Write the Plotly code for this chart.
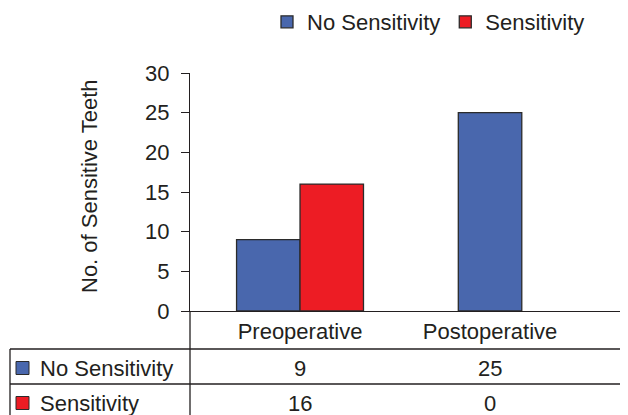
import plotly.graph_objects as go

categories = ["Preoperative", "Postoperative"]
series_names = ["No Sensitivity", "Sensitivity"]
no_sensitivity = [9, 25]
sensitivity = [16, 0]
y_ticks = [0, 5, 10, 15, 20, 25, 30]
y_title = "No. of Sensitive Teeth"

BLUE = "#4967AD"
RED = "#ED1C24"
INK = "#231F20"
EDGE = "#2B2B2B"
FONT = "Liberation Sans, Arial, Helvetica, sans-serif"
FS = 22

# page body has an 8px margin; lay out in reference pixels, shifted by OFF
OFF = 8
W, H = 628 - OFF, 415 - OFF
PLOT_LEFT, PLOT_TOP, PLOT_BOTTOM, PLOT_RIGHT = 190, 73, 311, 628
L = PLOT_LEFT - OFF
T = PLOT_TOP - OFF
B = H - (PLOT_BOTTOM - OFF)
R = W - (PLOT_RIGHT - OFF)
PW, PH = W - L - R, H - T - B


def px_x(p):
    return (p - PLOT_LEFT) / PW


def px_y(p):
    return (PLOT_BOTTOM - p) / PH


def edge_widths(vals):
    return [1.3 if v != 0 else 0 for v in vals]


bw = 0.334
fig = go.Figure()
fig.add_trace(go.Bar(
    name=series_names[0], x=categories, y=no_sensitivity,
    width=[bw, bw], offset=[-bw, -bw / 2],
    marker=dict(color=BLUE, line=dict(color=EDGE, width=edge_widths(no_sensitivity))),
))
fig.add_trace(go.Bar(
    name=series_names[1], x=categories, y=sensitivity,
    width=[bw, bw], offset=[0, 0],
    marker=dict(color=RED, line=dict(color=EDGE, width=edge_widths(sensitivity))),
))

shapes = []
line_style = dict(color=INK, width=1.3)
for py in (349, 384):
    shapes.append(dict(type="line", xref="paper", yref="paper",
                       x0=px_x(10), x1=px_x(640), y0=px_y(py), y1=px_y(py), line=line_style))
shapes.append(dict(type="line", xref="paper", yref="paper",
                   x0=px_x(10), x1=px_x(10), y0=px_y(349), y1=px_y(425), line=line_style))
shapes.append(dict(type="line", xref="paper", yref="paper",
                   x0=0, x1=0, y0=0, y1=px_y(425), line=line_style))

annotations = []
series_vals = [no_sensitivity, sensitivity]
series_cols = [BLUE, RED]
row_centers = [368, 403]
for name, vals, col, yc in zip(series_names, series_vals, series_cols, row_centers):
    shapes.append(dict(type="rect", xref="paper", yref="paper",
                       x0=px_x(16), x1=px_x(29), y0=px_y(yc - 6.5), y1=px_y(yc + 6.5),
                       fillcolor=col, line=dict(color=EDGE, width=1)))
    annotations.append(dict(text=name, xref="paper", yref="paper",
                            x=px_x(38), y=px_y(yc), xanchor="left", yanchor="middle",
                            showarrow=False, font=dict(family=FONT, size=FS, color=INK)))
    for cat, v in zip(categories, vals):
        annotations.append(dict(text=str(v), xref="x", yref="paper",
                                x=cat, y=px_y(yc), xanchor="center", yanchor="middle",
                                showarrow=False, font=dict(family=FONT, size=FS, color=INK)))

# y-axis title
annotations.append(dict(text=y_title, xref="paper", yref="paper", x=px_x(89), y=px_y(186),
                        xanchor="center", yanchor="middle", textangle=-90, showarrow=False,
                        font=dict(family=FONT, size=FS, color=INK)))

fig.update_layout(
    width=W, height=H,
    margin=dict(l=L, r=R, t=T, b=B, autoexpand=False),
    paper_bgcolor="white", plot_bgcolor="white",
    barmode="overlay",
    font=dict(family=FONT, size=FS, color=INK),
    showlegend=True,
    legend=dict(orientation="h", x=px_x(267), y=px_y(22), xanchor="left", yanchor="middle",
                font=dict(family=FONT, size=FS, color=INK), bgcolor="rgba(0,0,0,0)",
                itemclick=False, traceorder="normal"),
    xaxis=dict(type="category", range=[-0.579, 1.726], showline=True, linecolor=INK,
               linewidth=1.3, ticks="", showgrid=False, zeroline=False,
               tickfont=dict(family=FONT, size=FS, color=INK)),
    yaxis=dict(range=[0, 30], tickvals=y_ticks, showline=True, linecolor=INK, linewidth=1.3,
               ticks="outside", ticklen=8, tickcolor=INK, tickwidth=1.3, showgrid=False,
               zeroline=False, tickfont=dict(family=FONT, size=FS, color=INK),
               ticklabelstandoff=7),
    shapes=shapes,
    annotations=annotations,
)

fig.write_html("out.html")
